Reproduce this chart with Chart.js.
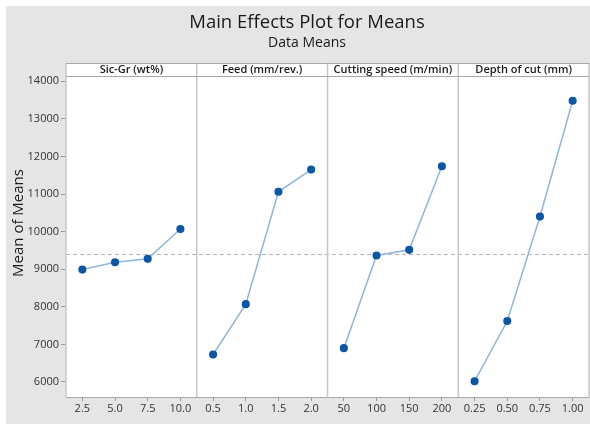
<!DOCTYPE html>
<html>
<head>
<meta charset="utf-8">
<script src="https://cdn.jsdelivr.net/npm/chart.js@4.4.1/dist/chart.umd.min.js"></script>
<style>
  html, body { margin: 0; padding: 0; background: #fff; }
  #wrap { width: 590px; height: 424px; }
</style>
</head>
<body>
<div id="wrap"><canvas id="chart" width="590" height="424"></canvas></div>
<script>
const chartTitle = "Main Effects Plot for Means";
const chartSubtitle = "Data Means";
const yTitle = "Mean of Means";
const panelTitles = ["Sic-Gr (wt%)", "Feed (mm/rev.)", "Cutting speed (m/min)", "Depth of cut (mm)"];

const sicGrLevels = ["2.5", "5.0", "7.5", "10.0"];
const feedLevels = ["0.5", "1.0", "1.5", "2.0"];
const speedLevels = ["50", "100", "150", "200"];
const depthLevels = ["0.25", "0.50", "0.75", "1.00"];

const sicGrMeans = [8990, 9185, 9275, 10070];
const feedMeans = [6730, 8070, 11060, 11650];
const speedMeans = [6900, 9365, 9515, 11740];
const depthMeans = [6020, 7620, 10400, 13480];

const yTicks = [6000, 7000, 8000, 9000, 10000, 11000, 12000, 13000, 14000];
const grandMean = 9390;

const FONT = "'Open Sans', 'Noto Sans', sans-serif";

document.addEventListener("DOMContentLoaded", () => {
  const levels = [sicGrLevels, feedLevels, speedLevels, depthLevels];
  const means = [sicGrMeans, feedMeans, speedMeans, depthMeans];
  const labels = levels.flat();

  // one dataset per panel, nulls outside its own panel
  const datasets = means.map((vals, p) => {
    const data = new Array(labels.length).fill(null);
    vals.forEach((v, i) => { data[p * 4 + i] = v; });
    return {
      label: panelTitles[p],
      data,
      borderColor: '#8fb5de',
      borderWidth: 1.5,
      pointBackgroundColor: '#0b56a6',
      pointBorderColor: '#0b56a6',
      pointRadius: 3.3,
      tension: 0,
      spanGaps: false
    };
  });

  const panelPlugin = {
    id: 'panelPlugin',
    beforeDraw(chart) {
      const { ctx, chartArea } = chart;
      const top = chart.scales.x2;
      ctx.save();
      ctx.fillStyle = '#ffffff';
      ctx.fillRect(0, 0, chart.width, chart.height);
      ctx.fillStyle = '#e5e5e5';
      ctx.fillRect(6, 6, chart.width - 6, chart.height - 6);
      ctx.fillStyle = '#ffffff';
      ctx.fillRect(chartArea.left, top.top, chartArea.right - chartArea.left, chartArea.bottom - top.top);
      ctx.restore();
    },
    beforeDatasetsDraw(chart) {
      const { ctx, chartArea } = chart;
      const y = chart.scales.y.getPixelForValue(grandMean);
      ctx.save();
      ctx.strokeStyle = '#b4b4b4';
      ctx.lineWidth = 1;
      ctx.setLineDash([4, 3]);
      ctx.beginPath();
      ctx.moveTo(chartArea.left, y);
      ctx.lineTo(chartArea.right, y);
      ctx.stroke();
      ctx.restore();
    },
    afterDraw(chart) {
      const { ctx, chartArea } = chart;
      const top = chart.scales.x2;
      const w = (chartArea.right - chartArea.left) / panelTitles.length;
      ctx.save();
      ctx.strokeStyle = '#c8c8c8';
      ctx.lineWidth = 1.5;
      for (let i = 0; i <= panelTitles.length; i++) {
        const x = chartArea.left + i * w;
        ctx.beginPath();
        ctx.moveTo(x, top.top);
        ctx.lineTo(x, chartArea.bottom);
        ctx.stroke();
      }
      ctx.strokeStyle = '#a8a8a8';
      ctx.lineWidth = 1;
      ctx.beginPath();
      ctx.moveTo(chartArea.left, top.top + 0.5);
      ctx.lineTo(chartArea.right, top.top + 0.5);
      ctx.moveTo(chartArea.left, top.bottom + 0.5);
      ctx.lineTo(chartArea.right, top.bottom + 0.5);
      ctx.moveTo(chartArea.left, chartArea.bottom + 0.5);
      ctx.lineTo(chartArea.right, chartArea.bottom + 0.5);
      ctx.stroke();

      // panel headers
      ctx.fillStyle = '#1a1a1a';
      ctx.textAlign = 'center';
      ctx.textBaseline = 'middle';
      ctx.font = `600 11px ${FONT}`;
      panelTitles.forEach((t, i) => {
        ctx.fillText(t, top.getPixelForTick(i), (top.top + top.bottom) / 2 + 0.5);
      });

      // titles
      ctx.font = `18.5px ${FONT}`;
      ctx.fillText(chartTitle, 307, 23);
      ctx.font = `14px ${FONT}`;
      ctx.fillText(chartSubtitle, 307, 43);

      // y axis title
      ctx.translate(18.5, 223);
      ctx.rotate(-Math.PI / 2);
      ctx.font = `15px ${FONT}`;
      ctx.fillText(yTitle, 0, 0);
      ctx.restore();
    }
  };

  new Chart(document.getElementById('chart'), {
    type: 'line',
    data: { labels, datasets },
    options: {
      responsive: false,
      animation: false,
      layout: { autoPadding: false, padding: { left: 8, top: 63, right: 1, bottom: 0 } },
      plugins: {
        legend: { display: false },
        tooltip: { enabled: false }
      },
      scales: {
        x: {
          type: 'category',
          offset: true,
          grid: { display: true, drawOnChartArea: false, drawTicks: true, tickLength: 4, color: '#9a9a9a', offset: false },
          border: { display: false },
          ticks: { color: '#333333', font: { family: FONT, size: 11 }, padding: 1, maxRotation: 0, autoSkip: false },
          afterFit(scale) { scale.height = 27; }
        },
        x2: {
          type: 'category',
          position: 'top',
          labels: panelTitles,
          offset: true,
          grid: { display: false },
          border: { display: false },
          ticks: { display: false },
          afterFit(scale) { scale.height = 13; }
        },
        y: {
          min: 5600,
          max: 14140,
          afterBuildTicks(scale) { scale.ticks = yTicks.map(v => ({ value: v })); },
          grid: { display: true, drawOnChartArea: false, drawTicks: true, tickLength: 5, color: '#9a9a9a' },
          border: { display: false },
          ticks: { color: '#333333', font: { family: FONT, size: 11 }, padding: 2, callback: v => String(v) },
          title: { display: false },
          afterFit(scale) { scale.width = 58; }
        }
      }
    },
    plugins: [panelPlugin]
  });
});
</script>
</body>
</html>
